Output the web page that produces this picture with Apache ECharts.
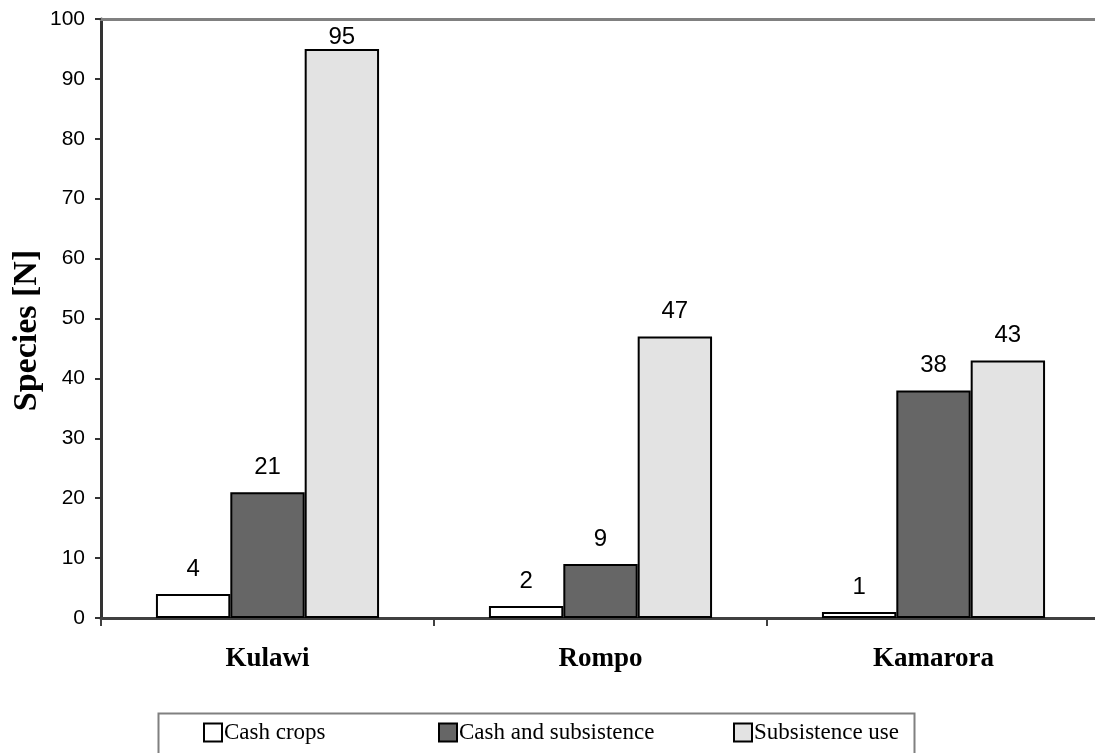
<!DOCTYPE html>
<html>
<head>
<meta charset="utf-8">
<script src="https://cdn.jsdelivr.net/npm/echarts@6/dist/echarts.min.js"></script>
<style>html,body{margin:0;padding:0;background:#fff}#c{width:1095px;height:753px}</style>
</head>
<body>
<div id="c"></div>
<script>
const categories = ['Kulawi', 'Rompo', 'Kamarora'];
const seriesNames = ['Cash crops', 'Cash and subsistence', 'Subsistence use'];
const cashCrops = [4, 2, 1];
const cashAndSubsistence = [21, 9, 38];
const subsistenceUse = [95, 47, 43];
const yTicks = [0, 10, 20, 30, 40, 50, 60, 70, 80, 90, 100];

const colors = ['#ffffff', '#666666', '#e3e3e3'];
const yMax = 100;
const serif = "'Liberation Serif', 'Times New Roman', serif";
const sans = "'Liberation Sans', Arial, sans-serif";

function makeData(values) {
  return values.map(v => {
    // labels that would run past the plot top are pulled down onto the bar
    if (v > yMax - 6) return { value: v, label: { distance: 0 } };
    return v;
  });
}

const valueSets = [cashCrops, cashAndSubsistence, subsistenceUse];
const series = seriesNames.map((name, i) => ({
  name: name,
  type: 'bar',
  xAxisIndex: 0,
  data: makeData(valueSets[i]),
  barGap: '0%',
  barCategoryGap: '33%',
  itemStyle: { color: colors[i], borderColor: '#000', borderWidth: 2 },
  label: {
    show: true, position: 'top', distance: 13,
    fontFamily: sans, fontSize: 24, color: '#000'
  }
}));

// one legend component per entry so each sits where the original placed it
const legendLefts = [203, 438, 733];
const legends = seriesNames.map((n, i) => ({
  data: [n],
  left: legendLefts[i], top: 721,
  padding: 0,
  itemWidth: 18, itemHeight: 18,
  icon: 'rect',
  textStyle: { fontFamily: serif, fontSize: 23, color: '#000', padding: [0, 0, 0, -3] }
}));

const chart = echarts.init(document.getElementById('c'));
chart.setOption({
  animation: false,
  backgroundColor: '#fff',
  grid: { left: 101, top: 19, width: 999, bottom: 135, containLabel: false, outerBoundsMode: 'none' },
  xAxis: [{
    type: 'category', data: categories, position: 'bottom',
    axisLine: { lineStyle: { color: '#404040', width: 3 } },
    axisTick: { show: true, length: 8, lineStyle: { color: '#404040', width: 2 } },
    axisLabel: { fontFamily: serif, fontWeight: 'bold', fontSize: 27, color: '#000', margin: 28 }
  }, {
    type: 'category', data: categories, position: 'top',
    axisLine: { show: true, lineStyle: { color: '#808080', width: 3 } },
    axisTick: { show: false }, axisLabel: { show: false }
  }],
  yAxis: {
    type: 'value', min: 0, max: yMax, interval: 10,
    name: 'Species [N]', nameLocation: 'middle', nameRotate: 90, nameGap: 57,
    nameMoveOverlap: false,
    nameTextStyle: { fontFamily: serif, fontWeight: 'bold', fontSize: 34, color: '#000', padding: [0, 24, 0, 0] },
    axisLine: { show: true, lineStyle: { color: '#333', width: 3 } },
    axisTick: { show: true, length: 6, lineStyle: { color: '#333', width: 2 } },
    axisLabel: { fontFamily: sans, fontSize: 21, color: '#000', margin: 16,
      formatter: v => yTicks.includes(v) ? String(v) : '' },
    splitLine: { show: false }
  },
  legend: legends,
  graphic: [{
    type: 'rect', left: 156, top: 711, silent: true, z: -1,
    shape: { width: 756, height: 60 },
    style: { fill: 'none', stroke: '#808080', lineWidth: 2 }
  }],
  series: series
});
</script>
</body>
</html>
